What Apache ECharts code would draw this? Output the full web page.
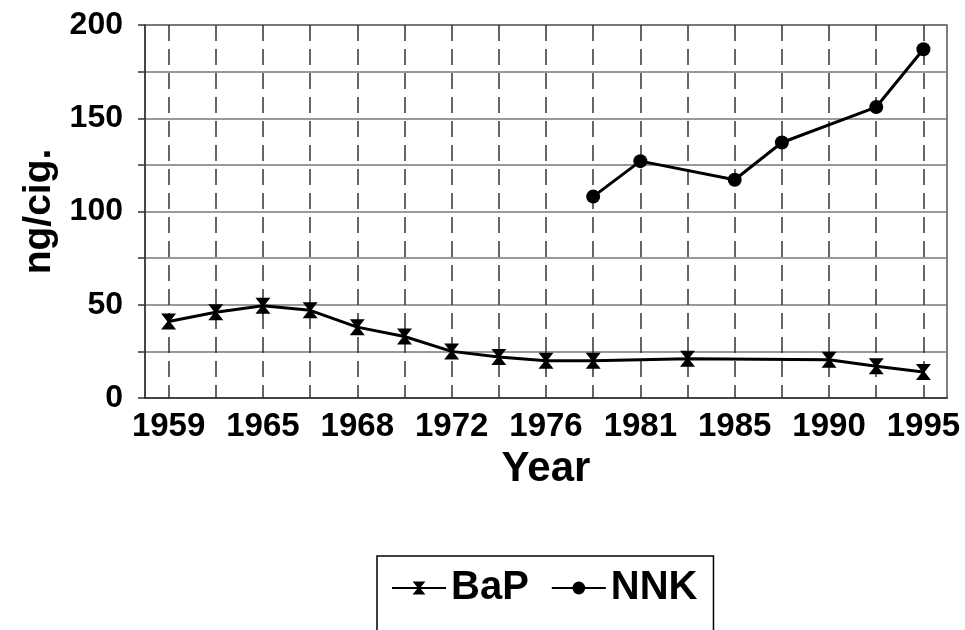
<!DOCTYPE html>
<html>
	<head>
		<meta charset="UTF-8">
		<title>BaP / NNK</title>
		<style>
			html,body{margin:0;padding:0;background:#fff;}
			#box{width:965px;height:630px;}
		</style>
	</head>
	<body>
		<div id="box"></div>
		<script type="text/javascript" src="https://cdn.jsdelivr.net/npm/echarts@6/dist/echarts.min.js"></script>
		<script type="text/javascript">
			// x categories, only every other one carries a year label
			var years=['1959','','1965','','1968','','1972','','1976','','1981','','1985','','1990','','1995'];
			var bap=[41,46,49.5,47,38,33,25,22,20,20,null,21,null,null,20.5,17,14];
			var nnk=[null,null,null,null,null,null,null,null,null,108,127,null,117,137,null,156,187];
			var yTicks=[0,50,100,150,200];

			var font='"Liberation Sans", Arial, sans-serif';
			var myechart=echarts.init(document.getElementById('box'));

			var bapSymbol='path://M0,0 L12,0 L7,6 L12,12 L0,12 L5,6 Z';

			var option={
				animation:false,
				textStyle:{fontFamily:font,color:'#000'},
				grid:{
					left:145,right:18,top:25,bottom:232,
					show:true,borderColor:'#555',borderWidth:1.5
				},
				legend:{
					left:377,top:556,
					padding:[12,16,30,14],
					borderColor:'#000',borderWidth:1.5,
					itemWidth:54,itemHeight:16,itemGap:22,
					textStyle:{fontSize:40,fontWeight:'bold',color:'#000',fontFamily:font},
					data:['BaP','NNK']
				},
				xAxis:{
					type:'category',
					data:years,
					boundaryGap:true,
					name:'Year',
					nameLocation:'middle',
					nameGap:50,
					nameTextStyle:{fontSize:42,fontWeight:'bold',color:'#000',fontFamily:font},
					axisLine:{lineStyle:{color:'#333',width:1.5}},
					axisTick:{alignWithLabel:true,length:7,lineStyle:{color:'#333',width:1.5}},
					axisLabel:{interval:0,fontSize:33,fontWeight:'bold',color:'#000',margin:12},
					splitLine:{
						show:true,
						alignWithLabel:true,
						lineStyle:{color:'#333',width:1.5,type:[16,8]}
					}
				},
				yAxis:{
					type:'value',
					min:0,max:200,interval:25,
					name:'ng/cig.',
					nameLocation:'middle',
					nameRotate:90,
					nameGap:86,
					nameTextStyle:{fontSize:39,fontWeight:'bold',color:'#000',fontFamily:font},
					axisLine:{show:true,lineStyle:{color:'#333',width:1.5}},
					axisTick:{show:true,length:7,lineStyle:{color:'#333',width:1.5}},
					axisLabel:{
						fontSize:32,fontWeight:'bold',color:'#000',margin:22,
						formatter:function(v){
							return yTicks.indexOf(v)>=0?String(v):'';
						}
					},
					splitLine:{lineStyle:{color:'#777',width:1.5}}
				},
				series:[{
					name:'BaP',
					type:'line',
					data:bap,
					connectNulls:true,
					symbol:bapSymbol,
					symbolSize:[15,16],
					lineStyle:{color:'#000',width:3},
					itemStyle:{color:'#000'}
				},{
					name:'NNK',
					type:'line',
					data:nnk,
					connectNulls:true,
					symbol:'circle',
					symbolSize:14,
					lineStyle:{color:'#000',width:3},
					itemStyle:{color:'#000'}
				}]
			};

			myechart.setOption(option);
		</script>
	</body>
</html>
